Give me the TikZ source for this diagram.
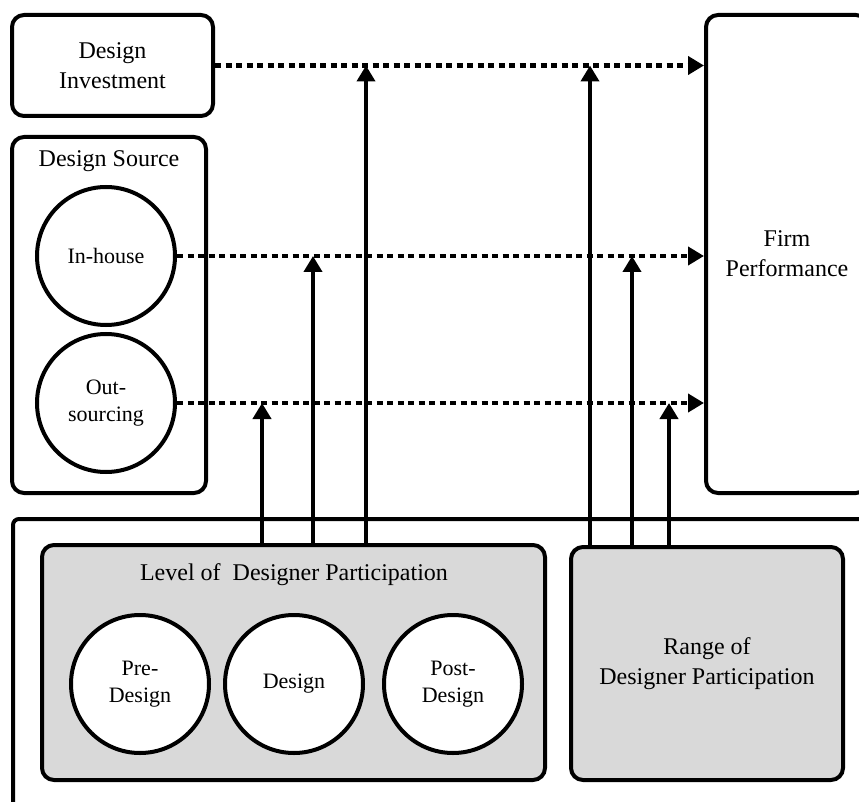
\documentclass[tikz,border=0pt]{standalone}
\usepackage{fontspec}
\setmainfont{Liberation Serif}
\usetikzlibrary{arrows.meta}

\tikzset{
  box/.style={draw, line width=4pt, rounded corners=12pt, align=center, inner sep=0pt,
    font=\fontsize{24}{30}\selectfont},
  greybox/.style={box, fill=black!15},
  bubble/.style={draw, circle, line width=4pt, fill=white, minimum size=138pt, inner sep=0pt,
    align=center, font=\fontsize{22}{27}\selectfont},
  title/.style={anchor=base, inner sep=0pt, font=\fontsize{24}{30}\selectfont},
  dotarrow/.style={line width=4.5pt, dash pattern=on 6pt off 4.5pt, -{Triangle[length=16pt,width=18pt]}},
  uparrow/.style={line width=4pt, -{Triangle[length=16pt,width=18pt]}}
}

\begin{document}
\begin{tikzpicture}[x=1pt, y=-1pt]
    \useasboundingbox (0,0) rectangle (859,802);
    \clip (0,0) rectangle (859,802);

    % left column
    \node[box, minimum width=201pt, minimum height=101pt] (inv) at (112.5,65.5) {Design\\Investment};
    \node[box, minimum width=194pt, minimum height=356pt] (src) at (109,315) {};
    \node[title] (srctitle) at (109,167) {Design Source};
    \node[bubble] (inhouse) at (106,256) {In-house};
    \node[bubble] (outsrc) at (106,403) {Out-\\sourcing};

    % outcome
    \node[box, minimum width=162pt, minimum height=478pt] (firm) at (787,254) {Firm\\Performance};

    % moderators
    \draw[line width=4pt, rounded corners=6pt] (13,519) rectangle (930,880);
    \node[greybox, minimum width=503pt, minimum height=235pt] (level) at (293.5,662.5) {};
    \node[title] (leveltitle) at (294,580) {Level of~ Designer Participation};
    \node[bubble] (pre) at (140,684) {Pre-\\Design};
    \node[bubble] (des) at (294,684) {Design};
    \node[bubble] (post) at (453,684) {Post-\\Design};
    \node[greybox, minimum width=272pt, minimum height=233pt] (range) at (707,663.5) {Range of\\Designer Participation};

    % main effects
    \draw[dotarrow] (inv.east) -- (inv.east -| firm.west);
    \draw[dotarrow] (inhouse.east) -- (inhouse.east -| firm.west);
    \draw[dotarrow] (outsrc.east) -- (outsrc.east -| firm.west);

    % moderating effects
    \foreach \n/\px/\py in {la/262/403, lb/313/256, lc/366/65.5} {
        \coordinate (\n) at (\px,\py);
        \draw[uparrow] (level.north -| \n) -- (\n);
    }
    \foreach \n/\px/\py in {ra/590/65.5, rb/632/256, rc/669/403} {
        \coordinate (\n) at (\px,\py);
        \draw[uparrow] (range.north -| \n) -- (\n);
    }
\end{tikzpicture}
\end{document}
